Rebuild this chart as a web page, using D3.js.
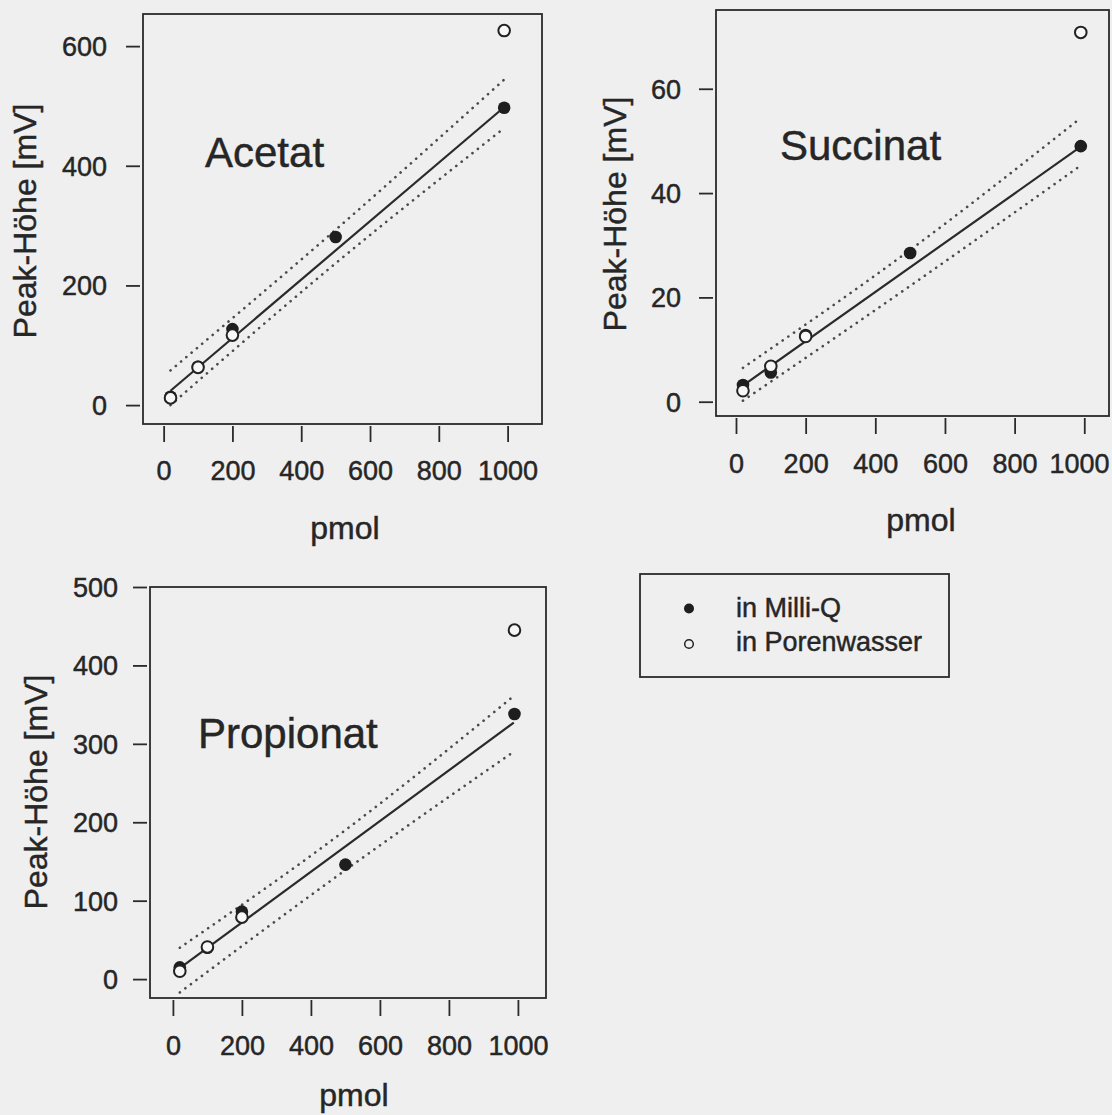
<!DOCTYPE html>
<html>
<head>
<meta charset="utf-8">
<script src="https://cdn.jsdelivr.net/npm/d3@7/dist/d3.min.js"></script>
<style>
  html, body { margin: 0; padding: 0; background: #efefef; }
  svg { display: block; }
  text { font-family: "Liberation Sans", Arial, Helvetica, sans-serif; fill: #262626;
         stroke: #262626; stroke-width: 0.45px; }
</style>
</head>
<body>
<svg id="chart" width="1112" height="1115"></svg>
<script>
// ---- Data: calibration of organic acids (peak height vs. amount) ----
const xTickValues = [0, 200, 400, 600, 800, 1000];

// amounts [pmol]
const concMilliQ = [20, 100, 200, 500, 990];
const concPoren  = [20, 100, 200, 990];

// Acetat
const acetatMilliQ = [14, 64, 127, 281, 497];
const acetatPoren  = [12, 63, 117, 626];
const acetatTicks  = [0, 200, 400, 600];

// Succinat
const succinatMilliQ = [3.2, 5.6, 12.8, 28.5, 49.0];
const succinatPoren  = [2.1, 6.8, 12.5, 70.8];
const succinatTicks  = [0, 20, 40, 60];

// Propionat
const propionatMilliQ = [15, 40, 86, 146, 338];
const propionatPoren  = [10, 41, 79, 445];
const propionatTicks  = [0, 100, 200, 300, 400, 500];

// regression line (ends) and confidence band for the Milli-Q series
const fitX  = [20, 988];
const bandX = [20, 500, 988];
const acetatFit      = [24, 497];
const acetatUpper    = [58, 293, 543];
const acetatLower    = [0, 237, 462];
const succinatFit    = [3.1, 48.8];
const succinatUpper  = [6.5, 29.1, 54.3];
const succinatLower  = [0.2, 22.2, 45.2];
const propionatFit   = [14, 327];
const propionatUpper = [40, 190, 361];
const propionatLower = [-17, 139, 290];

const legendLabels = ["in Milli-Q", "in Porenwasser"];

// ---- Panel layout ----
const W = 1112;
const panels = [
  { name: "Acetat", milliQ: acetatMilliQ, poren: acetatPoren, yTicks: acetatTicks,
    fit: acetatFit, upper: acetatUpper, lower: acetatLower,
    box: { x0: 143, x1: 542, y0: 14, y1: 424 },
    xDom: [-60, 1100], yDom: [-31.6, 653.7],
    yLabX: 25, yLabY: 221, pmol: [345, 529], yTickRight: 107, xTickY: 471,
    title: [205, 167] },
  { name: "Succinat", milliQ: succinatMilliQ, poren: succinatPoren, yTicks: succinatTicks,
    fit: succinatFit, upper: succinatUpper, lower: succinatLower,
    box: { x0: 716, x1: 1109, y0: 10, y1: 416 },
    xDom: [-57.4, 1071], yDom: [-2.74, 75.1],
    yLabX: 615, yLabY: 214, pmol: [921, 521], yTickRight: 681, xTickY: 464,
    title: [780, 160] },
  { name: "Propionat", milliQ: propionatMilliQ, poren: propionatPoren, yTicks: propionatTicks,
    fit: propionatFit, upper: propionatUpper, lower: propionatLower,
    box: { x0: 150, x1: 546, y0: 587, y1: 998 },
    xDom: [-66.4, 1081.4], yDom: [-24.1, 500],
    yLabX: 36, yLabY: 792, pmol: [354, 1096], yTickRight: 118, xTickY: 1046,
    title: [198, 747.5] }
];

const ink = "#2a2a2a";
const svg = d3.select("#chart");
svg.append("rect").attr("width", W).attr("height", 1115).attr("fill", "#efefef");

panels.forEach(p => {
  const b = p.box;
  const x = d3.scaleLinear().domain(p.xDom).range([b.x0, b.x1]);
  const y = d3.scaleLinear().domain(p.yDom).range([b.y1, b.y0]);
  const g = svg.append("g");

  // frame
  g.append("rect")
    .attr("x", b.x0).attr("y", b.y0)
    .attr("width", b.x1 - b.x0).attr("height", b.y1 - b.y0)
    .attr("fill", "none").attr("stroke", ink).attr("stroke-width", 1.8);

  // x axis
  const gx = g.append("g")
    .attr("transform", `translate(0,${b.y1 + 2})`)
    .call(d3.axisBottom(x).tickValues(xTickValues).tickSize(16).tickSizeOuter(0).tickFormat(d3.format("d")));
  gx.select(".domain").remove();
  gx.selectAll(".tick line").attr("stroke", ink).attr("stroke-width", 1.8);
  gx.selectAll(".tick text")
    .attr("y", p.xTickY - b.y1 - 2).attr("dy", "0.35em")
    .style("font-size", "27px").attr("fill", "#262626");
  // keep labels inside the page at the right edge
  gx.selectAll(".tick text").each(function(d) {
    const bb = this.getBBox();
    const right = x(d) + bb.x + bb.width;
    if (right > W - 3) d3.select(this).attr("x", (W - 3) - right);
  });

  // y axis
  const gy = g.append("g")
    .attr("transform", `translate(${b.x0 - 3},0)`)
    .call(d3.axisLeft(y).tickValues(p.yTicks).tickSize(14).tickSizeOuter(0).tickFormat(d3.format("d")));
  gy.select(".domain").remove();
  gy.selectAll(".tick line").attr("stroke", ink).attr("stroke-width", 1.8);
  gy.selectAll(".tick text")
    .attr("x", p.yTickRight - (b.x0 - 3)).attr("dy", "0.35em")
    .style("font-size", "27px").attr("fill", "#262626");

  // axis titles
  g.append("text")
    .attr("x", p.pmol[0]).attr("y", p.pmol[1]).attr("dy", "0.3em")
    .attr("text-anchor", "middle").style("font-size", "32px").text("pmol");
  g.append("text")
    .attr("transform", `translate(${p.yLabX},${p.yLabY}) rotate(-90)`)
    .attr("dy", "0.35em").attr("text-anchor", "middle")
    .style("font-size", "32px").text("Peak-Höhe [mV]");

  // panel title
  g.append("text")
    .attr("x", p.title[0]).attr("y", p.title[1])
    .style("font-size", "42px").text(p.name);

  // confidence band (dotted)
  const band = d3.line().x(d => x(d[0])).y(d => y(d[1])).curve(d3.curveNatural);
  [p.upper, p.lower].forEach(vals => {
    g.append("path")
      .datum(bandX.map((v, i) => [v, vals[i]]))
      .attr("d", band)
      .attr("fill", "none").attr("stroke", "#4a4a4a")
      .attr("stroke-width", 2.6).attr("stroke-linecap", "round")
      .attr("stroke-dasharray", "0.1 6.8");
  });

  // regression line
  g.append("line")
    .attr("x1", x(fitX[0])).attr("y1", y(p.fit[0]))
    .attr("x2", x(fitX[1])).attr("y2", y(p.fit[1]))
    .attr("stroke", ink).attr("stroke-width", 2.2);

  // Milli-Q: filled
  g.selectAll("circle.mq")
    .data(concMilliQ.map((c, i) => [c, p.milliQ[i]]))
    .join("circle").attr("class", "mq")
    .attr("cx", d => x(d[0])).attr("cy", d => y(d[1]))
    .attr("r", 6.3).attr("fill", "#1e1e1e");

  // Porenwasser: open
  g.selectAll("circle.pw")
    .data(concPoren.map((c, i) => [c, p.poren[i]]))
    .join("circle").attr("class", "pw")
    .attr("cx", d => x(d[0])).attr("cy", d => y(d[1]))
    .attr("r", 5.8).attr("fill", "#f7f7f7")
    .attr("stroke", "#222").attr("stroke-width", 2);
});

// legend
const lg = svg.append("g");
lg.append("rect")
  .attr("x", 640).attr("y", 574).attr("width", 309).attr("height", 103)
  .attr("fill", "none").attr("stroke", ink).attr("stroke-width", 1.8);
lg.append("circle").attr("cx", 689).attr("cy", 608.5).attr("r", 5).attr("fill", "#1e1e1e");
lg.append("circle").attr("cx", 689).attr("cy", 644).attr("r", 4.3)
  .attr("fill", "none").attr("stroke", "#222").attr("stroke-width", 1.5);
lg.selectAll("text.lab")
  .data(legendLabels)
  .join("text").attr("class", "lab")
  .attr("x", 736).attr("y", (d, i) => 616.6 + i * 34.7)
  .style("font-size", "27px").text(d => d);
</script>
</body>
</html>
